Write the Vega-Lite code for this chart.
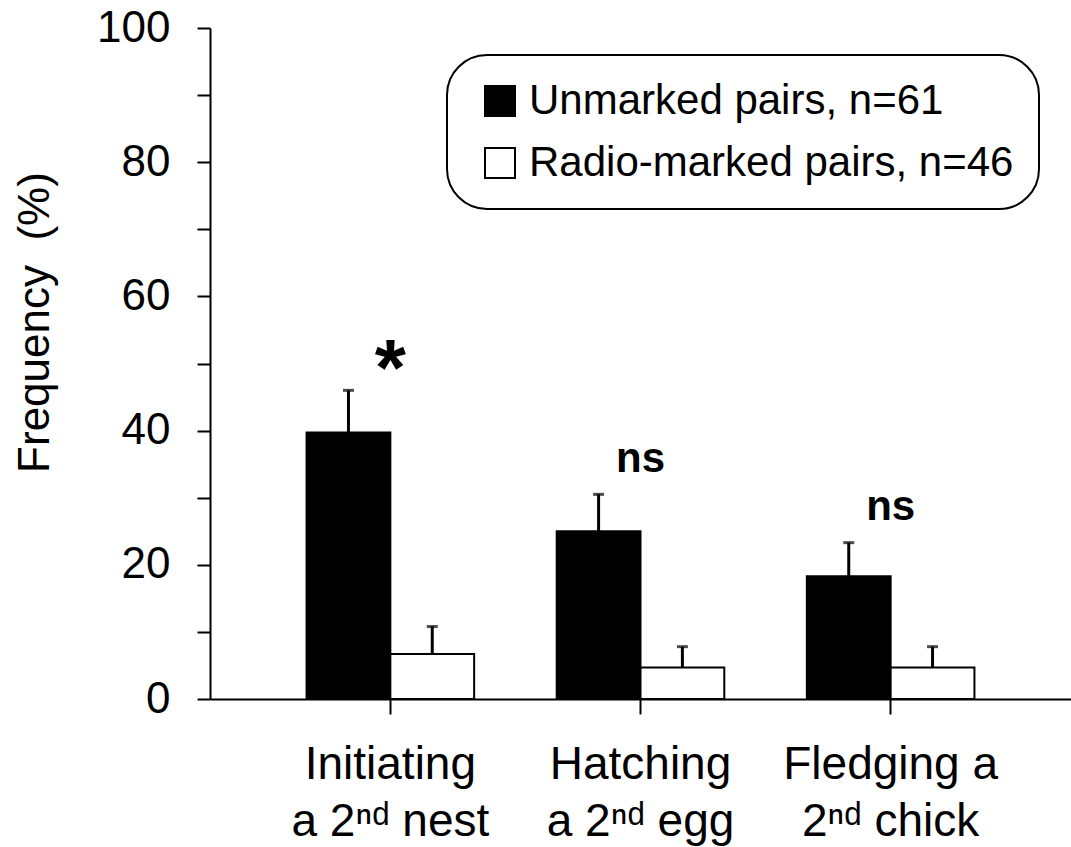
{
  "$schema": "https://vega.github.io/schema/vega-lite/v6.json",
  "width": 861,
  "height": 671,
  "autosize": {"type": "none"},
  "padding": {"left": 210, "top": 28, "right": 0, "bottom": 148},
  "background": "white",
  "config": {
    "view": {"stroke": null},
    "font": "Liberation Sans",
    "legend": {"strokeWidth": 2}
  },
  "datasets": {
    "bars": [
      {"category": "Initiating|a 2ⁿᵈ nest", "group": "Unmarked pairs, n=61", "value": 39.7, "upper": 46.0},
      {"category": "Initiating|a 2ⁿᵈ nest", "group": "Radio-marked pairs, n=46", "value": 6.7, "upper": 10.8},
      {"category": "Hatching|a 2ⁿᵈ egg", "group": "Unmarked pairs, n=61", "value": 25.0, "upper": 30.5},
      {"category": "Hatching|a 2ⁿᵈ egg", "group": "Radio-marked pairs, n=46", "value": 4.7, "upper": 7.8},
      {"category": "Fledging a|2ⁿᵈ chick", "group": "Unmarked pairs, n=61", "value": 18.3, "upper": 23.3},
      {"category": "Fledging a|2ⁿᵈ chick", "group": "Radio-marked pairs, n=46", "value": 4.7, "upper": 7.8}
    ],
    "notes": [
      {"category": "Initiating|a 2ⁿᵈ nest", "label": "*", "pos": 45.3},
      {"category": "Hatching|a 2ⁿᵈ egg", "label": "ns", "pos": 33.8},
      {"category": "Fledging a|2ⁿᵈ chick", "label": "ns", "pos": 26.7}
    ]
  },
  "layer": [
    {
      "data": {"name": "bars"},
      "mark": {"type": "bar", "stroke": "black", "strokeWidth": 2},
      "encoding": {
        "x": {
          "field": "category", "type": "nominal", "sort": null,
          "scale": {"paddingInner": 0.33, "paddingOuter": 0.386},
          "axis": {
            "title": null, "labelAngle": 0,
            "labelExpr": "split(datum.label, '|')",
            "labelFont": "Liberation Sans",
            "labelFontSize": 46, "labelLineHeight": 57,
            "labelBaseline": "top", "labelPadding": 28, "labelLimit": 400,
            "labelColor": "black",
            "tickSize": 15, "tickWidth": 2, "tickColor": "black",
            "domainColor": "black", "domainWidth": 2, "grid": false
          }
        },
        "xOffset": {"field": "group", "type": "nominal", "sort": null, "scale": {"paddingInner": 0, "paddingOuter": 0}},
        "y": {
          "field": "value", "type": "quantitative",
          "scale": {"domain": [0, 100], "nice": false},
          "axis": {
            "values": [0, 10, 20, 30, 40, 50, 60, 70, 80, 90, 100],
            "labelExpr": "datum.value % 20 == 0 ? datum.label : ''",
            "title": "Frequency \u00a0(%)",
            "titleFont": "Liberation Sans", "titleFontSize": 44, "titleFontWeight": "normal",
            "titleColor": "black", "titleAngle": -90, "titleX": -162, "titleY": 294,
            "titleAlign": "center", "titleBaseline": "alphabetic",
            "labelFont": "Liberation Sans", "labelFontSize": 44, "labelColor": "black",
            "labelPadding": 27, "labelFlush": false, "labelOverlap": false,
            "tickSize": 13, "tickWidth": 2, "tickColor": "black",
            "domainColor": "black", "domainWidth": 2, "grid": false
          }
        },
        "color": {
          "field": "group", "type": "nominal", "sort": null,
          "scale": {"domain": ["Unmarked pairs, n=61", "Radio-marked pairs, n=46"], "range": ["black", "white"]},
          "legend": {
            "orient": "none", "legendX": 237, "legendY": 27, "title": null,
            "symbolType": "square", "symbolSize": 900,
            "symbolStrokeColor": "black", "symbolStrokeWidth": 2,
            "labelFont": "Liberation Sans", "labelFontSize": 42, "labelColor": "black",
            "labelOffset": 8, "labelLimit": 600,
            "rowPadding": 20, "padding": 25, "symbolOffset": 7,
            "strokeColor": "black", "cornerRadius": 40, "fillColor": "white"
          }
        }
      }
    },
    {
      "data": {"name": "bars"},
      "mark": {"type": "rule", "strokeWidth": 3, "color": "black"},
      "encoding": {
        "x": {"field": "category", "type": "nominal", "sort": null},
        "xOffset": {"field": "group", "type": "nominal", "sort": null},
        "y": {"field": "value", "type": "quantitative"},
        "y2": {"field": "upper"}
      }
    },
    {
      "data": {"name": "bars"},
      "mark": {"type": "tick", "thickness": 3, "size": 11, "color": "black"},
      "encoding": {
        "x": {"field": "category", "type": "nominal", "sort": null},
        "xOffset": {"field": "group", "type": "nominal", "sort": null},
        "y": {"field": "upper", "type": "quantitative"}
      }
    },
    {
      "data": {"name": "notes"},
      "transform": [{"filter": "datum.label == '*'"}],
      "mark": {"type": "text", "font": "Liberation Sans", "fontWeight": "bold", "fontSize": 80, "baseline": "alphabetic", "align": "center", "color": "black"},
      "encoding": {
        "x": {"field": "category", "type": "nominal", "sort": null},
        "y": {"field": "pos", "type": "quantitative"},
        "text": {"field": "label"}
      }
    },
    {
      "data": {"name": "notes"},
      "transform": [{"filter": "datum.label == 'ns'"}],
      "mark": {"type": "text", "font": "Liberation Sans", "fontWeight": "bold", "fontSize": 42, "baseline": "alphabetic", "align": "center", "color": "black"},
      "encoding": {
        "x": {"field": "category", "type": "nominal", "sort": null},
        "y": {"field": "pos", "type": "quantitative"},
        "text": {"field": "label"}
      }
    },
    {
      "mark": {"type": "rule", "strokeWidth": 2, "color": "black"},
      "encoding": {"y": {"datum": 100}}
    }
  ]
}
